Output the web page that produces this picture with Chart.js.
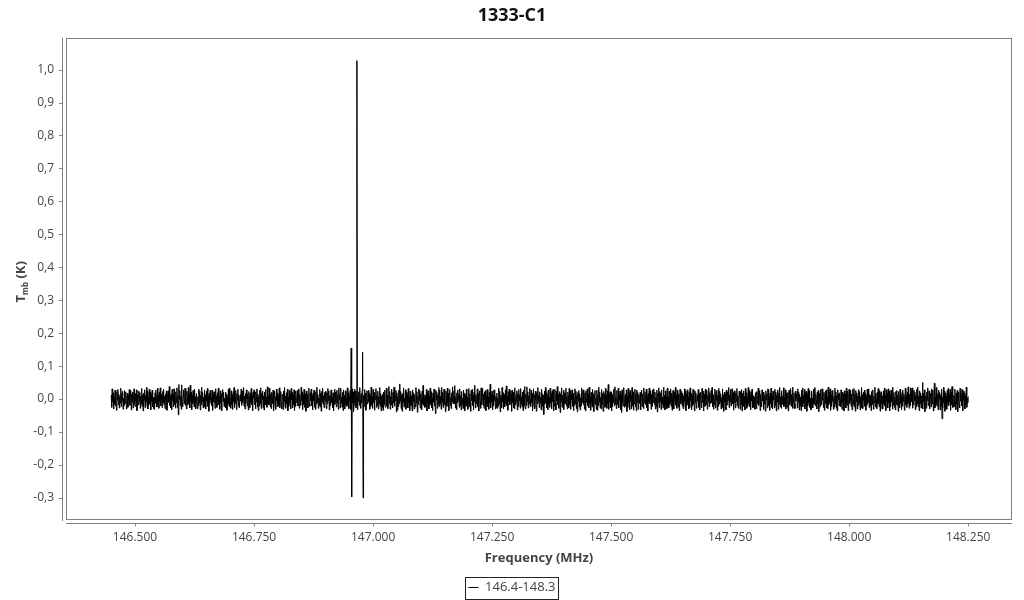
<!DOCTYPE html>
<html>
<head>
<meta charset="utf-8">
<script src="https://cdn.jsdelivr.net/npm/chart.js@4.4.0/dist/chart.umd.min.js"></script>
<style>
html,body{margin:0;padding:0;background:#fff;}
#wrap{width:1024px;height:600px;position:relative;}
</style>
</head>
<body>
<div id="wrap"><canvas id="c" width="1024" height="600"></canvas></div>
<script>
// ---- data ----
const chartTitle = '1333-C1';
const seriesLabel = '146.4-148.3';
const freqStart = 146.45;   // MHz, first channel
const freqStep = 0.001;     // MHz per channel
// Tmb per channel in mK (read/estimated from picture)
const tmbMilliK = [
12,-25,31,-8,19,-30,5,-16,27,-21,10,-34,22,-3,29,-18,14,-27,7,-12,33,-23,17,-6,24,-31,2,-19,26,-11,
-14,22,-30,7,18,-25,11,-3,29,-19,4,26,-33,15,-8,21,-27,9,31,-12,-22,17,-5,28,-35,13,1,-18,24,-9,
20,-28,9,-15,32,-22,13,-36,18,-4,28,-26,11,-20,35,-9,23,-30,6,-17,30,-13,21,-33,15,-7,27,-24,4,-29,
6,-31,19,-13,27,3,-24,32,-16,10,-28,20,-7,34,-21,14,-2,-26,23,-11,30,-17,8,-29,16,-4,25,-34,12,19,
25,-10,38,-19,8,-27,16,-32,29,-5,14,-23,31,-16,3,-28,22,-11,34,-25,12,-48,44,-2,26,-20,9,-31,43,-14,
-23,9,28,-15,-6,33,-20,13,-30,24,2,-17,35,-10,18,-27,42,-8,21,-32,11,-14,26,-3,-24,30,-12,7,-29,17,
17,-29,7,-21,30,-12,24,-33,11,-18,36,-8,20,-27,5,-24,28,-15,13,-30,23,-6,32,-22,10,-37,18,-13,27,-3,
5,-20,27,-34,14,-9,22,1,-28,31,-15,10,-25,19,-4,33,-18,8,-31,25,-11,16,-36,12,29,-7,20,-23,3,-16,
21,-26,14,-34,6,-19,29,-10,33,-23,2,-28,25,-17,12,-31,19,-7,35,-25,9,-14,26,-32,16,-4,30,-21,11,-27,
-27,13,-6,30,-19,24,-12,-3,35,-22,9,-30,17,-14,28,-1,-21,14,-33,23,6,-26,18,-10,32,-17,11,-35,21,4,
28,-16,4,-30,22,-9,31,-24,15,-35,8,-20,27,-13,34,-29,18,-1,24,-26,10,-33,21,-12,29,-18,6,-25,37,-15,
9,-18,33,-7,-24,16,-29,21,4,-13,27,-36,12,25,-20,7,-31,30,-5,18,-23,10,-15,34,-26,2,23,-12,-30,15,
13,-32,24,-7,35,-21,9,-28,19,-14,30,-36,5,-22,26,-11,16,-30,32,-3,20,-27,12,-17,28,-34,7,-23,25,-9,
-11,26,-21,5,31,-28,14,-9,-19,36,-6,20,-32,11,-17,29,3,-25,16,-37,24,-2,13,-27,8,33,-14,-22,19,-5,
30,-20,11,-33,17,-5,27,-25,8,-31,22,-15,36,-10,14,-28,3,-19,29,-24,18,-37,23,-8,33,-16,10,-26,20,-2,
23,-8,-29,18,-14,32,-4,25,-33,10,-20,15,28,-11,6,-26,19,-35,2,30,-16,21,-9,-24,27,-13,12,-31,34,-1,
16,-27,33,-13,6,-24,21,-35,28,-9,12,-30,25,-18,4,-22,34,-14,19,-29,9,-6,27,-32,155,-297,31,-11,22,-38,
-17,30,-10,24,-26,8,1027,-32,13,-7,22,-19,35,-3,-28,16,-12,27,142,-300,11,-23,29,-6,18,-34,7,25,-15,-9,
26,-8,18,-31,10,-23,36,-17,5,-28,29,-12,20,-34,14,-2,32,-25,11,-19,24,-30,7,-15,35,-22,17,-36,9,-26,
14,-34,21,-2,27,-16,-25,9,33,-20,12,-29,4,38,-13,23,-31,7,-18,30,-8,-27,20,-11,36,-22,15,-5,26,-39,
19,-33,8,-22,27,-14,46,-6,23,-29,13,-37,17,-10,34,-24,3,-18,28,-31,21,-5,15,-27,32,-12,6,-35,24,-16,
-21,11,-36,28,-7,19,-30,14,3,-24,35,-12,22,-40,9,-17,31,-4,26,-28,16,-2,-33,24,-14,41,-19,6,-26,13,
11,-24,29,-36,16,-7,25,-30,9,-19,33,-13,22,-26,4,-34,18,-9,30,-21,14,-44,26,-3,20,-28,12,-17,35,-23,
27,-15,8,-31,36,-9,20,-25,-6,30,-18,13,-38,24,1,-22,33,-11,17,-35,10,29,-20,5,-29,19,-8,37,-14,-3,
24,-15,41,-27,7,-32,19,-11,28,-4,15,-25,31,-20,10,-33,23,-16,2,-29,27,-8,18,-36,13,-22,30,-14,5,-31,
-9,32,-24,16,-12,-37,26,-5,29,-19,10,-33,21,-8,42,-27,14,-15,-4,31,-23,18,-36,11,25,-10,-28,34,-17,7,
33,-19,14,-28,22,-2,26,-35,10,-17,29,-23,6,-31,20,-12,45,-26,15,-9,24,-33,11,-21,28,-6,17,-30,8,-25,
18,-28,3,-21,33,-14,24,-39,12,6,-26,35,-9,19,-30,15,-1,-24,28,-13,40,-20,9,-34,22,-6,30,-18,-11,25,
15,-37,27,-12,20,-26,3,-30,34,-18,11,-8,25,-33,17,-22,29,-5,13,-28,32,-15,7,-24,21,-35,26,-10,38,-20,
-30,15,-19,37,-8,21,-27,10,-16,32,-4,-23,27,-12,18,-35,6,31,-21,13,-29,24,-2,-37,20,-15,35,-7,12,-26,
22,-11,6,-33,30,-21,16,-28,12,-47,24,-14,35,-4,19,-27,9,-32,27,-17,5,-25,33,-12,15,-30,23,-7,29,-36,
10,-22,29,-13,-33,24,-6,38,-18,14,-28,4,23,-41,16,-9,34,-25,11,-3,27,-32,19,-14,-5,33,-20,8,-30,21,
9,-26,32,-16,25,-31,14,-3,28,-22,18,-35,7,-19,31,-13,24,-29,11,-38,20,-6,26,-24,16,-33,4,-21,34,-11,
-5,28,-17,12,-30,19,-36,25,-10,-2,31,-21,15,-27,36,-13,7,-34,20,-8,-24,29,-12,17,-38,9,26,-16,3,-31,
27,-34,13,-20,36,-9,21,-27,5,-30,29,-16,17,-37,23,-1,14,-25,32,-19,10,-28,25,-14,44,-31,18,-8,22,-27,
22,-36,14,-24,9,-11,30,-20,37,-15,5,-29,26,-6,-18,33,-27,12,-3,24,-33,16,-40,28,-9,-21,13,35,-25,6,
14,-21,28,-38,8,-25,33,-12,19,-33,26,-6,12,-29,35,-20,22,-34,9,-15,30,-23,16,-36,27,-10,20,-31,13,-3,
-13,20,-33,8,27,-23,15,-4,-29,34,-12,22,-17,3,30,-26,10,-36,18,-7,33,-15,-1,25,-31,14,-22,28,-10,17,
31,-17,21,-30,4,-24,27,-39,16,-11,34,-26,23,-8,18,-32,28,-14,6,-27,36,-20,11,-33,25,-16,9,-29,33,-22,
4,-27,24,-16,-9,31,-22,18,-34,7,26,-13,-30,20,-5,35,-19,11,-28,27,-3,-24,16,-35,9,30,-14,-6,23,-20,
18,-29,10,-23,31,-7,24,-35,15,-19,28,-13,6,-30,22,-26,34,-4,17,-32,12,-21,29,-16,8,-36,25,-11,19,-28,
-19,12,-6,29,-25,17,-33,3,21,-14,-27,32,-10,24,-36,8,15,-22,30,-2,-17,26,-31,11,-8,34,-23,19,-13,-4,
26,-12,35,-24,13,-31,7,-18,30,-27,20,-5,27,-34,11,-22,33,-15,24,-9,16,-30,5,-25,31,-19,14,-37,21,-8,
15,-33,27,-10,-18,22,-4,35,-26,13,-9,29,-21,-3,31,-15,20,-34,6,25,-12,-27,18,-7,32,-20,10,-28,3,24,
12,-31,23,-17,29,-36,17,-10,25,-22,9,-33,32,-14,19,-28,4,-20,35,-12,26,-24,13,-32,22,-6,30,-27,10,-18,
-25,6,-31,19,12,-29,23,-14,-2,33,-19,8,26,-35,14,-10,-24,28,-6,17,-32,21,9,-16,-37,25,-3,16,-27,31,
29,-20,8,-34,18,-14,33,-25,11,-30,24,-3,15,-27,30,-19,21,-36,12,-9,28,-31,18,-15,35,-23,7,-28,25,-13,
8,-16,34,-23,5,-12,28,-30,17,-1,-25,20,-36,11,27,-18,-7,32,-22,14,-11,36,-28,3,19,-15,-29,24,-5,12,
17,-27,31,-9,22,-33,14,-21,6,-35,27,-16,34,-24,10,-12,29,-30,19,-5,23,-37,15,-20,32,-10,26,-25,3,-32,
-32,24,-11,3,-27,30,-16,9,35,-21,14,-6,-30,22,-13,26,-38,4,18,-24,29,-9,-17,31,-4,12,-26,20,-34,7,
23,-14,28,-26,5,-29,36,-18,20,-11,31,-34,13,-22,26,-7,17,-31,9,-24,33,-15,22,-28,12,-36,28,-2,16,-21,
19,-5,-23,28,-14,-31,21,-8,16,-36,25,-2,13,-27,33,-11,-19,24,-35,8,30,-13,-3,27,-22,15,-33,6,29,-18,
32,-24,15,-37,26,-8,19,-30,10,-20,29,-13,23,-33,7,-26,35,-17,14,-29,21,-4,27,-22,16,-34,9,-19,30,-12,
-7,31,-26,14,-20,11,-35,23,2,-17,28,-31,9,-12,36,-24,17,-4,-29,20,-15,32,-8,-23,26,-37,13,22,-11,-30,
10,-30,24,-15,33,-21,12,-35,28,-6,18,-27,31,-11,24,-36,15,-23,27,-9,13,-31,36,-18,20,-25,5,-33,23,-16,
26,-19,12,-37,23,-3,-26,30,-13,8,-32,19,-22,27,-7,14,-34,-1,33,-18,10,-25,21,-14,37,-6,-28,15,-20,34,
25,-9,34,-28,16,-18,27,-4,21,-32,11,-24,29,-15,36,-22,8,-35,25,-13,19,-27,10,-20,50,-30,17,-7,28,-38,
-16,9,-28,21,-5,34,-20,-11,25,-30,6,17,-24,31,-15,-8,28,-36,12,48,-27,5,-19,35,-10,-22,16,-33,27,-2,
20,-33,13,-22,30,-60,6,-28,35,-11,23,-37,18,-25,9,-31,26,-14,32,-20,15,-8,29,-34,21,-17,38,-26,12,-24,
11,-23,30,-9,-32,18,-14,26,-38,4,21,-16,-27,33,-6,13,-21,29,-12,-35,24,-4,18,-30,9,-17,36,-25,2,-11,
8
];
const xTickValues = [146.5, 146.75, 147.0, 147.25, 147.5, 147.75, 148.0, 148.25];
const yTickValues = [-0.3, -0.2, -0.1, 0, 0.1, 0.2, 0.3, 0.4, 0.5, 0.6, 0.7, 0.8, 0.9, 1.0];
const xRange = [146.355, 148.342];
const yRange = [-0.367, 1.097];

// ---- chart ----
Chart.defaults.font.family = "'Open Sans', sans-serif";
const points = tmbMilliK.map((v, i) => ({ x: freqStart + i * freqStep, y: v / 1000 }));
const PAD_BOTTOM = -4;

const decor = {
  id: 'decor',
  afterDraw(chart) {
    const ctx = chart.ctx, a = chart.chartArea;
    const xs = chart.scales.x, ys = chart.scales.y;
    ctx.save();
    ctx.lineWidth = 1;
    ctx.strokeStyle = '#808080';
    ctx.strokeRect(Math.round(a.left) + 0.5, Math.round(a.top) + 0.5, Math.round(a.right - a.left) - 1, Math.round(a.bottom - a.top) - 1);
    const yl = Math.round(a.left) - 3.5;
    ctx.beginPath();
    ctx.moveTo(yl, a.top); ctx.lineTo(yl, a.bottom + 1);
    const xl = Math.round(a.bottom) + 3.5;
    ctx.moveTo(a.left, xl); ctx.lineTo(a.right, xl);
    ctx.stroke();
    ctx.beginPath();
    ys.ticks.forEach(t => {
      const py = Math.round(ys.getPixelForValue(t.value)) + 0.5;
      ctx.moveTo(yl - 3.5, py); ctx.lineTo(yl, py);
    });
    xs.ticks.forEach(t => {
      const px = Math.round(xs.getPixelForValue(t.value)) + 0.5;
      ctx.moveTo(px, xl); ctx.lineTo(px, xl + 3);
    });
    ctx.stroke();
    // y axis title with subscript
    ctx.fillStyle = '#444';
    ctx.textBaseline = 'middle';
    ctx.textAlign = 'left';
    const big = "bold 13px 'Open Sans'", small = "bold 8px 'Open Sans'";
    ctx.font = big; const w1 = ctx.measureText('T').width; const w3 = ctx.measureText(' (K)').width;
    ctx.font = small; const w2 = ctx.measureText('mb').width;
    const tw = w1 + w2 + w3;
    ctx.translate(21, (a.top + a.bottom) / 2 + 3);
    ctx.rotate(-Math.PI / 2);
    let x0 = -tw / 2;
    ctx.font = big; ctx.fillText('T', x0, 0); x0 += w1;
    ctx.font = small; ctx.fillText('mb', x0, 5); x0 += w2;
    ctx.font = big; ctx.fillText(' (K)', x0, 0);
    ctx.restore();
    // legend box
    const hb = chart.legend && chart.legend.legendHitBoxes && chart.legend.legendHitBoxes[0];
    if (hb) {
      ctx.save();
      ctx.strokeStyle = '#222';
      ctx.lineWidth = 1;
      const cy = hb.top + hb.height / 2;
      ctx.strokeRect(Math.round(hb.left - 4) + 0.5, Math.round(cy - 11) + 0.5, Math.round(hb.width + 6), 22);
      ctx.restore();
    }
  }
};

new Chart(document.getElementById('c'), {
  type: 'line',
  data: {
    datasets: [{
      label: seriesLabel,
      data: points,
      borderColor: '#000',
      backgroundColor: '#000',
      borderWidth: 1,
      pointRadius: 0,
      tension: 0,
      fill: false
    }]
  },
  options: {
    responsive: false,
    animation: false,
    events: [],
    layout: { padding: { top: 0, left: 0, right: 0, bottom: PAD_BOTTOM } },
    plugins: {
      title: {
        display: true, text: chartTitle, color: '#111',
        font: { size: 18, weight: 'bold' },
        padding: { top: 5, bottom: 11 }
      },
      legend: {
        display: true, position: 'bottom',
        labels: {
          color: '#444', font: { size: 13 },
          usePointStyle: true, pointStyle: 'line', pointStyleWidth: 10, boxHeight: 13,
          padding: 2
        }
      },
      tooltip: { enabled: false }
    },
    scales: {
      x: {
        type: 'linear', min: xRange[0], max: xRange[1],
        grid: { display: false, drawTicks: false },
        border: { display: false },
        afterBuildTicks: s => { s.ticks = xTickValues.map(v => ({ value: v })); },
        afterFit: s => { const lg = s.chart.legend; s.height = s.chart.height - PAD_BOTTOM - (lg ? lg.height : 0) - 520; },
        ticks: { color: '#444', font: { size: 12 }, padding: 10, maxRotation: 0, autoSkip: false,
          callback: v => Number(v).toFixed(3) },
        title: { display: true, text: 'Frequency (MHz)', color: '#444',
          font: { size: 13, weight: 'bold' }, padding: { top: 4, bottom: 13 } }
      },
      y: {
        type: 'linear', min: yRange[0], max: yRange[1],
        grid: { display: false, drawTicks: false },
        border: { display: false },
        afterBuildTicks: s => { s.ticks = yTickValues.map(v => ({ value: v })); },
        afterFit: s => { s.width = 66; },
        ticks: { color: '#444', font: { size: 12 }, padding: 12, autoSkip: false,
          callback: v => Number(v).toFixed(1).replace('.', ',') }
      },
      yr: {
        type: 'linear', position: 'right', display: true,
        grid: { display: false, drawTicks: false },
        border: { display: false },
        ticks: { display: false },
        afterFit: s => { s.width = 12; }
      }
    }
  },
  plugins: [decor]
});
</script>
</body>
</html>
